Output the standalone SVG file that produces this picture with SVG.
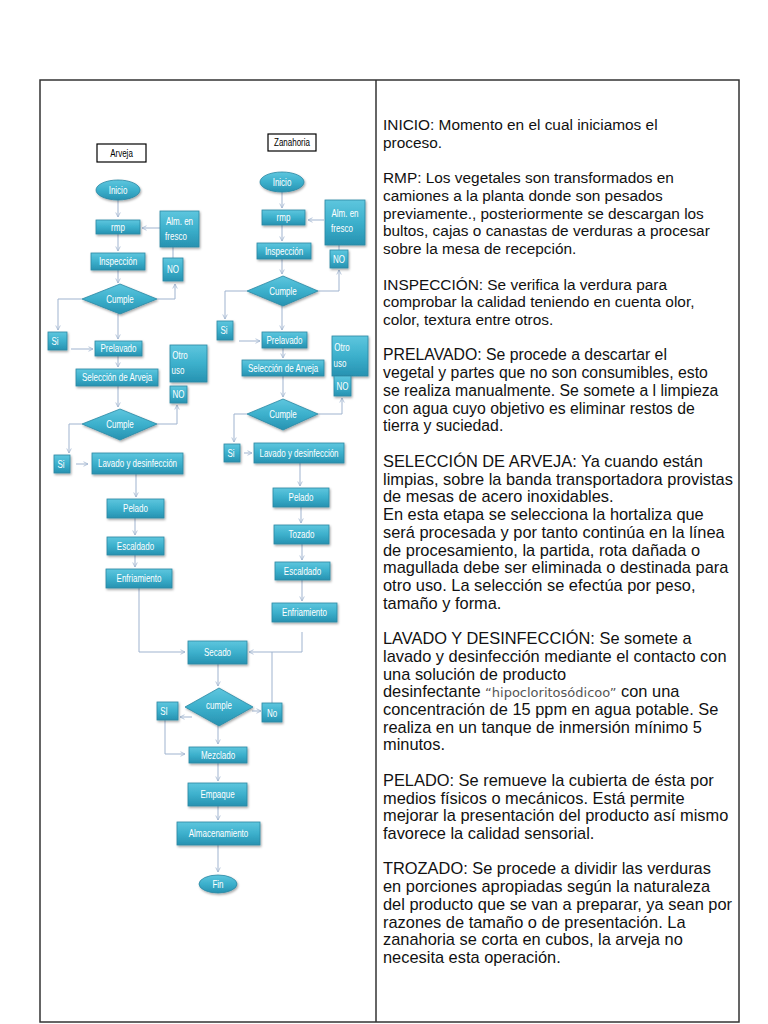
<svg xmlns="http://www.w3.org/2000/svg" width="768" height="1024" viewBox="0 0 768 1024">
<style>
.n{fill:url(#tg);stroke:#2b88a3;stroke-width:0.8;filter:url(#sh)}
.t{font-family:"Liberation Sans",Arial,sans-serif;font-size:10px;fill:#ffffff;text-anchor:middle}
.lbl{font-family:"Liberation Sans",Arial,sans-serif;font-size:10px;fill:#000;text-anchor:middle}
.c{fill:none;stroke:#9fb3cf;stroke-width:1}
.a{marker-end:url(#ar)}
.p{font-family:"Liberation Sans",Arial,sans-serif;font-size:15.4px;fill:#111}
.p2{font-size:15.8px}
.p3{font-size:16.4px}
.frame{fill:none;stroke:#333;stroke-width:1.5}
</style>
<defs>
<linearGradient id="tg" x1="0" y1="0" x2="0" y2="1">
<stop offset="0" stop-color="#5ec6de"/>
<stop offset="0.5" stop-color="#3cb0cc"/>
<stop offset="1" stop-color="#2792b1"/>
</linearGradient>
<filter id="sh" x="-20%" y="-20%" width="150%" height="160%">
<feDropShadow dx="1" dy="1.5" stdDeviation="0.8" flood-color="#000" flood-opacity="0.35"/>
</filter>
<marker id="ar" viewBox="0 0 8 8" refX="7" refY="4" markerWidth="6" markerHeight="6" orient="auto" markerUnits="userSpaceOnUse">
<path d="M1,1 L7,4 L1,7" fill="none" stroke="#9fb3cf" stroke-width="1"/>
</marker>
</defs>
<rect width="768" height="1024" fill="#ffffff"/>
<g id="table">
<rect class="frame" x="40" y="80" width="699" height="942"/>
<line x1="376" y1="80" x2="376" y2="1022" stroke="#333" stroke-width="1.5"/>
</g>
<g id="connectors">
<line class="c a" x1="118" y1="200" x2="118" y2="217"/>
<line class="c a" x1="160" y1="228" x2="142" y2="228"/>
<line class="c a" x1="118" y1="234" x2="118" y2="251"/>
<line class="c" x1="173" y1="258" x2="173" y2="247"/>
<line class="c a" x1="118" y1="270" x2="118" y2="283"/>
<polyline class="c a" points="157,299 175,299 175,284"/>
<polyline class="c a" points="82,299 58,299 58,330"/>
<line class="c a" x1="118" y1="314" x2="118" y2="339"/>
<line class="c a" x1="71" y1="349" x2="93" y2="349"/>
<line class="c a" x1="118" y1="356" x2="118" y2="367"/>
<line class="c a" x1="118" y1="386" x2="118" y2="407"/>
<polyline class="c a" points="157,424 177,424 177,405"/>
<polyline class="c a" points="82,424 69,424 69,453"/>
<line class="c a" x1="76" y1="464" x2="88" y2="464"/>
<line class="c a" x1="136" y1="474" x2="136" y2="497"/>
<line class="c a" x1="135" y1="518" x2="135" y2="535"/>
<line class="c a" x1="135" y1="555" x2="135" y2="567"/>
<polyline class="c a" points="139,588 139,652 185,652"/>
<line class="c a" x1="282" y1="192" x2="282" y2="208"/>
<line class="c a" x1="324" y1="220" x2="308" y2="220"/>
<line class="c a" x1="282" y1="225" x2="282" y2="241"/>
<line class="c" x1="339" y1="250" x2="339" y2="245"/>
<line class="c a" x1="282" y1="259" x2="282" y2="274"/>
<polyline class="c a" points="318,291 339,291 339,270"/>
<polyline class="c a" points="247,291 225,291 225,319"/>
<line class="c a" x1="282" y1="306" x2="282" y2="330"/>
<line class="c a" x1="239" y1="341" x2="260" y2="341"/>
<line class="c a" x1="283" y1="348" x2="283" y2="358"/>
<line class="c a" x1="283" y1="376" x2="283" y2="397"/>
<polyline class="c a" points="318,414 342,414 342,398"/>
<polyline class="c a" points="247,414 234,414 234,442"/>
<line class="c a" x1="244" y1="453" x2="252" y2="453"/>
<line class="c a" x1="300" y1="463" x2="300" y2="486"/>
<line class="c a" x1="301" y1="507" x2="301" y2="523"/>
<line class="c a" x1="302" y1="544" x2="302" y2="560"/>
<line class="c a" x1="302" y1="580" x2="302" y2="601"/>
<polyline class="c a" points="302,632 302,652 249,652"/>
<line class="c a" x1="218" y1="664" x2="218" y2="686"/>
<line class="c a" x1="192" y1="717" x2="180" y2="717"/>
<line class="c a" x1="252" y1="711" x2="261" y2="711"/>
<line class="c" x1="272" y1="703" x2="272" y2="652"/>
<polyline class="c a" points="165,720 165,754 185,754"/>
<line class="c a" x1="218" y1="726" x2="218" y2="744"/>
<line class="c a" x1="218" y1="763" x2="218" y2="781"/>
<line class="c a" x1="218" y1="806" x2="218" y2="820"/>
<line class="c a" x1="218" y1="845" x2="218" y2="872"/>
</g>
<g id="L-title"><rect x="97" y="144" width="49" height="18" fill="#fff" stroke="#000" stroke-width="1.2"/><text class="lbl" transform="translate(121.5,156.5) scale(0.8,1)">Arveja</text></g>
<g id="L-inicio"><ellipse class="n" cx="118" cy="190" rx="22" ry="10"/><text class="t" transform="translate(118,193.5) scale(0.8,1)">Inicio</text></g>
<g id="L-rmp"><rect class="n" x="96" y="220" width="44" height="14"/><text class="t" transform="translate(118,230.5) scale(0.8,1)">rmp</text></g>
<g id="L-alm"><rect class="n" x="160" y="211" width="39" height="36"/><text class="t" transform="translate(179.5,225) scale(0.8,1)">Alm. en</text><text class="t" transform="translate(176,240) scale(0.8,1)">fresco</text></g>
<g id="L-insp"><rect class="n" x="91" y="253" width="54" height="17"/><text class="t" transform="translate(118,265) scale(0.8,1)">Inspección</text></g>
<g id="L-no1"><rect class="n" x="163" y="258" width="20" height="23"/><text class="t" transform="translate(173,273) scale(0.8,1)">NO</text></g>
<g id="L-cumple1"><polygon class="n" points="120,284 157,299 120,314 82,299"/><text class="t" transform="translate(120,302.5) scale(0.8,1)">Cumple</text></g>
<g id="L-si1"><rect class="n" x="48" y="332" width="19" height="18"/><text class="t" transform="translate(55,344.5) scale(0.8,1)">Si</text></g>
<g id="L-prelavado"><rect class="n" x="95" y="341" width="47" height="15"/><text class="t" transform="translate(118.5,352) scale(0.8,1)">Prelavado</text></g>
<g id="L-otro"><rect class="n" x="170" y="345" width="37" height="37"/><text class="t" transform="translate(180,359) scale(0.8,1)">Otro</text><text class="t" transform="translate(178,374) scale(0.8,1)">uso</text></g>
<g id="L-seleccion"><rect class="n" x="76" y="369" width="82" height="17"/><text class="t" transform="translate(117,381) scale(0.8,1)">Selección de Arveja</text></g>
<g id="L-no2"><rect class="n" x="170" y="386" width="17" height="17"/><text class="t" transform="translate(178.5,398) scale(0.8,1)">NO</text></g>
<g id="L-cumple2"><polygon class="n" points="120,409 157,424 120,440 82,424"/><text class="t" transform="translate(120,427.5) scale(0.8,1)">Cumple</text></g>
<g id="L-si2"><rect class="n" x="54" y="455" width="16" height="18"/><text class="t" transform="translate(61,467.5) scale(0.8,1)">Si</text></g>
<g id="L-lavado"><rect class="n" x="92" y="453" width="91" height="21"/><text class="t" transform="translate(137.5,467) scale(0.8,1)">Lavado y desinfección</text></g>
<g id="L-pelado"><rect class="n" x="107" y="499" width="57" height="19"/><text class="t" transform="translate(135.5,512) scale(0.8,1)">Pelado</text></g>
<g id="L-escaldado"><rect class="n" x="107" y="537" width="57" height="18"/><text class="t" transform="translate(135.5,549.5) scale(0.8,1)">Escaldado</text></g>
<g id="L-enfriamiento"><rect class="n" x="106" y="569" width="66" height="19"/><text class="t" transform="translate(139,582) scale(0.8,1)">Enfriamiento</text></g>
<g id="R-title"><rect x="268" y="134" width="48" height="17" fill="#fff" stroke="#000" stroke-width="1.2"/><text class="lbl" transform="translate(292,146) scale(0.8,1)">Zanahoria</text></g>
<g id="R-inicio"><ellipse class="n" cx="282" cy="182" rx="22" ry="10"/><text class="t" transform="translate(282,185.5) scale(0.8,1)">Inicio</text></g>
<g id="R-rmp"><rect class="n" x="262" y="210" width="43" height="15"/><text class="t" transform="translate(283.5,221) scale(0.8,1)">rmp</text></g>
<g id="R-alm"><rect class="n" x="325" y="200" width="40" height="45"/><text class="t" transform="translate(345,216.5) scale(0.8,1)">Alm. en</text><text class="t" transform="translate(342,232) scale(0.8,1)">fresco</text></g>
<g id="R-insp"><rect class="n" x="257" y="243" width="54" height="16"/><text class="t" transform="translate(284,254.5) scale(0.8,1)">Inspección</text></g>
<g id="R-no1"><rect class="n" x="330" y="250" width="18" height="18"/><text class="t" transform="translate(339,262.5) scale(0.8,1)">NO</text></g>
<g id="R-cumple1"><polygon class="n" points="283,276 318,291 283,306 247,291"/><text class="t" transform="translate(283,294.5) scale(0.8,1)">Cumple</text></g>
<g id="R-si1"><rect class="n" x="217" y="321" width="16" height="19"/><text class="t" transform="translate(224,334) scale(0.8,1)">Si</text></g>
<g id="R-prelavado"><rect class="n" x="262" y="332" width="45" height="16"/><text class="t" transform="translate(284.5,343.5) scale(0.8,1)">Prelavado</text></g>
<g id="R-otro"><rect class="n" x="332" y="336" width="36" height="40"/><text class="t" transform="translate(342,351) scale(0.8,1)">Otro</text><text class="t" transform="translate(340,367) scale(0.8,1)">uso</text></g>
<g id="R-seleccion"><rect class="n" x="242" y="360" width="82" height="16"/><text class="t" transform="translate(283,371.5) scale(0.8,1)">Selección de Arveja</text></g>
<g id="R-no2"><rect class="n" x="334" y="376" width="17" height="20"/><text class="t" transform="translate(342.5,389.5) scale(0.8,1)">NO</text></g>
<g id="R-cumple2"><polygon class="n" points="283,399 318,414 283,430 247,414"/><text class="t" transform="translate(283,417.5) scale(0.8,1)">Cumple</text></g>
<g id="R-si2"><rect class="n" x="224" y="444" width="16" height="18"/><text class="t" transform="translate(231,456.5) scale(0.8,1)">Si</text></g>
<g id="R-lavado"><rect class="n" x="254" y="443" width="90" height="20"/><text class="t" transform="translate(299,456.5) scale(0.8,1)">Lavado y desinfección</text></g>
<g id="R-pelado"><rect class="n" x="273" y="488" width="56" height="19"/><text class="t" transform="translate(301,501) scale(0.8,1)">Pelado</text></g>
<g id="R-tozado"><rect class="n" x="274" y="525" width="55" height="19"/><text class="t" transform="translate(301.5,538) scale(0.8,1)">Tozado</text></g>
<g id="R-escaldado"><rect class="n" x="275" y="562" width="55" height="18"/><text class="t" transform="translate(302.5,574.5) scale(0.8,1)">Escaldado</text></g>
<g id="R-enfriamiento"><rect class="n" x="272" y="603" width="65" height="19"/><text class="t" transform="translate(304.5,616) scale(0.8,1)">Enfriamiento</text></g>
<g id="C-secado"><rect class="n" x="188" y="641" width="59" height="23"/><text class="t" transform="translate(217.5,656) scale(0.8,1)">Secado</text></g>
<g id="C-cumple"><polygon class="n" points="219,688 253,707 219,726 185,707"/><text class="t" transform="translate(219,708.5) scale(0.8,1)">cumple</text></g>
<g id="C-si"><rect class="n" x="157" y="702" width="21" height="18"/><text class="t" transform="translate(164,715) scale(0.8,1)">SI</text></g>
<g id="C-no"><rect class="n" x="262" y="703" width="20" height="19"/><text class="t" transform="translate(272,716.5) scale(0.8,1)">No</text></g>
<g id="C-mezclado"><rect class="n" x="189" y="747" width="58" height="16"/><text class="t" transform="translate(218,758.5) scale(0.8,1)">Mezclado</text></g>
<g id="C-empaque"><rect class="n" x="188" y="783" width="59" height="23"/><text class="t" transform="translate(217.5,798) scale(0.8,1)">Empaque</text></g>
<g id="C-almacenamiento"><rect class="n" x="177" y="822" width="83" height="23"/><text class="t" transform="translate(218.5,837) scale(0.8,1)">Almacenamiento</text></g>
<g id="C-fin"><ellipse class="n" cx="218" cy="884" rx="19" ry="9"/><text class="t" transform="translate(218,887.5) scale(0.8,1)">Fin</text></g>
<g id="description">
<text class="p" x="383" y="130">INICIO: Momento en el cual iniciamos el</text>
<text class="p" x="383" y="148">proceso.</text>
<text class="p" x="383" y="183">RMP: Los vegetales son transformados en</text>
<text class="p" x="383" y="201">camiones a la planta donde son pesados</text>
<text class="p" x="383" y="219">previamente., posteriormente se descargan los</text>
<text class="p" x="383" y="236">bultos, cajas o canastas de verduras a procesar</text>
<text class="p" x="383" y="254">sobre la mesa de recepción.</text>
<text class="p" x="383" y="290">INSPECCIÓN: Se verifica la verdura para</text>
<text class="p" x="383" y="307">comprobar la calidad teniendo en cuenta olor,</text>
<text class="p" x="383" y="325">color, textura entre otros.</text>
<text class="p p2" x="383" y="360">PRELAVADO: Se procede a descartar el</text>
<text class="p p2" x="383" y="378">vegetal y partes que no son consumibles, esto</text>
<text class="p p2" x="383" y="396">se realiza manualmente. Se somete a l limpieza</text>
<text class="p p2" x="383" y="414">con agua cuyo objetivo es eliminar restos de</text>
<text class="p p2" x="383" y="431">tierra y suciedad.</text>
<text class="p p3" x="383" y="467">SELECCIÓN DE ARVEJA: Ya cuando están</text>
<text class="p p3" x="383" y="485">limpias, sobre la banda transportadora provistas</text>
<text class="p p3" x="383" y="502">de mesas de acero inoxidables.</text>
<text class="p p3" x="383" y="520">En esta etapa se selecciona la hortaliza que</text>
<text class="p p3" x="383" y="538">será procesada y por tanto continúa en la línea</text>
<text class="p p3" x="383" y="556">de procesamiento, la partida, rota dañada o</text>
<text class="p p3" x="383" y="573">magullada debe ser eliminada o destinada para</text>
<text class="p p3" x="383" y="591">otro uso. La selección se efectúa por peso,</text>
<text class="p p3" x="383" y="609">tamaño y forma.</text>
<text class="p p3" x="383" y="644">LAVADO Y DESINFECCIÓN: Se somete a</text>
<text class="p p3" x="383" y="662">lavado y desinfección mediante el contacto con</text>
<text class="p p3" x="383" y="680">una solución de producto</text>
<text class="p p3" x="383" y="697">desinfectante <tspan fill="#555" font-family="'DejaVu Sans',sans-serif" font-size="13px">“hipocloritosódicoo”</tspan> con una</text>
<text class="p p3" x="383" y="715">concentración de 15 ppm en agua potable. Se</text>
<text class="p p3" x="383" y="733">realiza en un tanque de inmersión mínimo 5</text>
<text class="p p3" x="383" y="750">minutos.</text>
<text class="p p3" x="383" y="786">PELADO: Se remueve la cubierta de ésta por</text>
<text class="p p3" x="383" y="804">medios físicos o mecánicos. Está permite</text>
<text class="p p3" x="383" y="821">mejorar la presentación del producto así mismo</text>
<text class="p p3" x="383" y="839">favorece la calidad sensorial.</text>
<text class="p p3" x="383" y="874">TROZADO: Se procede a dividir  las verduras</text>
<text class="p p3" x="383" y="892">en porciones apropiadas según la naturaleza</text>
<text class="p p3" x="383" y="910">del producto que se van a preparar, ya sean por</text>
<text class="p p3" x="383" y="928">razones de tamaño o de presentación. La</text>
<text class="p p3" x="383" y="945">zanahoria se corta en cubos, la arveja no</text>
<text class="p p3" x="383" y="963">necesita esta operación.</text>
</g>
</svg>
